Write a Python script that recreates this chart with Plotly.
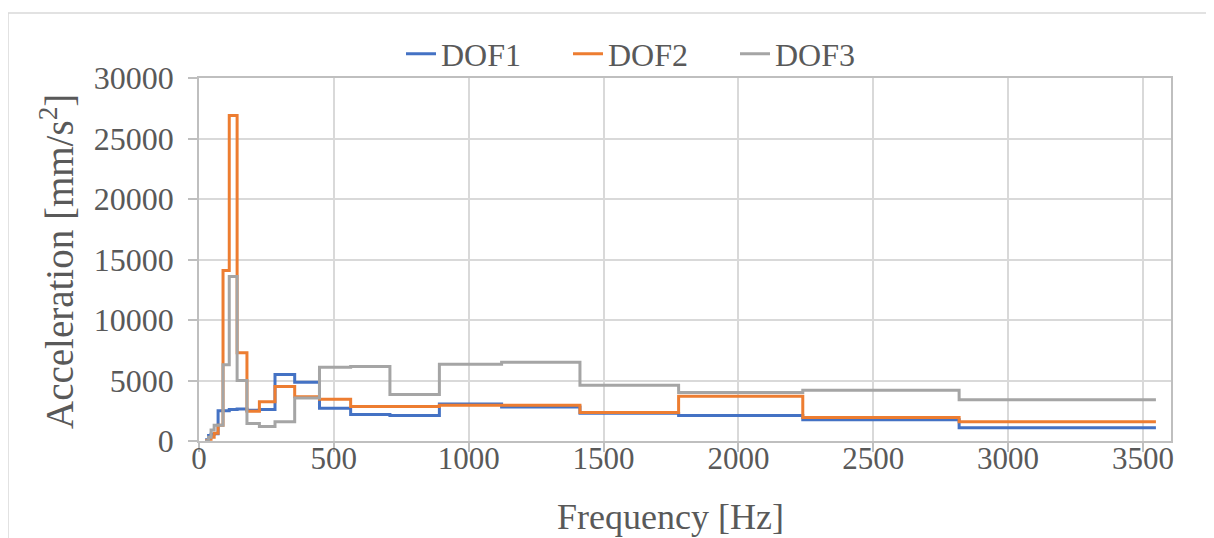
import plotly.graph_objects as go

# Third-octave band edges [Hz]
band_edges = [22.4, 28.2, 35.5, 44.7, 56.2, 70.8, 89.1, 112.2, 141.3, 177.8, 223.9,
              281.8, 354.8, 446.7, 562.3, 707.9, 891.3, 1122.0, 1412.5, 1778.3,
              2238.7, 2818.4, 3548.1]

dof1 = [0, 100, 450, 550, 600, 2500, 2500, 2600, 2650, 2550, 2600, 5500, 4850,
        2700, 2200, 2100, 3050, 2800, 2300, 2100, 1750, 1100]
dof2 = [0, 50, 150, 300, 650, 1300, 14100, 26900, 7300, 2450, 3250, 4500, 3650,
        3450, 2850, 2850, 2950, 2950, 2350, 3700, 1950, 1600]
dof3 = [0, 0, 300, 900, 1300, 1300, 6300, 13600, 5000, 1450, 1200, 1600, 3550,
        6100, 6150, 3850, 6350, 6500, 4600, 4000, 4200, 3400]

series_names = ["DOF1", "DOF2", "DOF3"]
series_colors = ["#4472C4", "#ED7D31", "#A5A5A5"]

x_ticks = [0, 500, 1000, 1500, 2000, 2500, 3000, 3500]
y_ticks = [0, 5000, 10000, 15000, 20000, 25000, 30000]

x_title = "Frequency [Hz]"
y_title = "Acceleration [mm/s<sup>2</sup>]"

FONT = "'Liberation Serif', 'Times New Roman', 'DejaVu Serif', serif"
TXT = "#595959"
GRID = "#d9d9d9"
AXIS = "#bfbfbf"

fig = go.Figure()
for name, vals, col in zip(series_names, [dof1, dof2, dof3], series_colors):
    fig.add_trace(go.Scatter(
        x=band_edges, y=vals + [vals[-1]], name=name, mode="lines",
        line=dict(color=col, width=3, shape="hv"),
    ))
# empty helper trace so the label-only overlay axis is drawn
fig.add_trace(go.Scatter(x=[], y=[], xaxis="x2", yaxis="y", showlegend=False, hoverinfo="skip"))

# page body has an 8px margin: compensate so the plot area lands at screen 199..1171 x 78..441
OFF = 8
W, H = 1214, 538
L, T = 199 - OFF, 78 - OFF
pw, ph = 1171 - 199, 441 - 78
R, B = W - L - pw, H - T - ph

def sx(px):  # screen px -> paper x
    return (px - OFF - L) / pw

def sy(py):  # screen py -> paper y
    return 1 - (py - OFF - T) / ph

fig.update_layout(
    width=W, height=H,
    margin=dict(l=L, r=R, t=T, b=B, pad=0, autoexpand=False),
    paper_bgcolor="white", plot_bgcolor="white",
    font=dict(family=FONT, color=TXT, size=30),
    legend=dict(orientation="h", x=sx(401), y=sy(54), xanchor="left", yanchor="middle",
                font=dict(family=FONT, size=32, color=TXT), bgcolor="rgba(0,0,0,0)",
                entrywidth=122, entrywidthmode="pixels", itemwidth=30, tracegroupgap=0),
    xaxis=dict(
        range=[0, 3604], tickvals=x_ticks, showticklabels=False,
        showgrid=True, gridcolor=GRID, gridwidth=1.5,
        showline=True, linecolor=AXIS, linewidth=1.5, mirror=True,
        ticks="outside", ticklen=9, tickcolor=AXIS, tickwidth=1.5,
        zeroline=False,
    ),
    xaxis2=dict(
        overlaying="x", matches="x", anchor="free", position=0.012,
        tickvals=x_ticks, ticktext=[str(v) for v in x_ticks],
        showgrid=False, showline=False, ticks="", zeroline=False,
        tickfont=dict(family=FONT, size=31, color=TXT),
    ),
    yaxis=dict(
        range=[0, 30000], tickvals=y_ticks, ticktext=[str(v) for v in y_ticks],
        showgrid=True, gridcolor=GRID, gridwidth=1.5,
        showline=True, linecolor=AXIS, linewidth=1.5, mirror=True,
        ticks="outside", ticklen=9, tickcolor=AXIS, tickwidth=1.5,
        ticklabelstandoff=8,
        tickfont=dict(family=FONT, size=32, color=TXT),
        zeroline=False,
    ),
    showlegend=True,
    annotations=[
        dict(text=x_title, xref="paper", yref="paper", x=sx(670), y=sy(517),
             xanchor="center", yanchor="middle", showarrow=False,
             font=dict(family=FONT, size=36, color=TXT)),
        dict(text=y_title, xref="paper", yref="paper", x=sx(57), y=sy(262),
             xanchor="center", yanchor="middle", showarrow=False, textangle=-90,
             font=dict(family=FONT, size=39, color=TXT)),
    ],
)

# outer chart border
fig.add_shape(type="rect", xref="paper", yref="paper",
              x0=sx(8), x1=sx(1240), y0=sy(580), y1=sy(13),
              line=dict(color=GRID, width=1.5), layer="below")

fig.write_html("out.html")
